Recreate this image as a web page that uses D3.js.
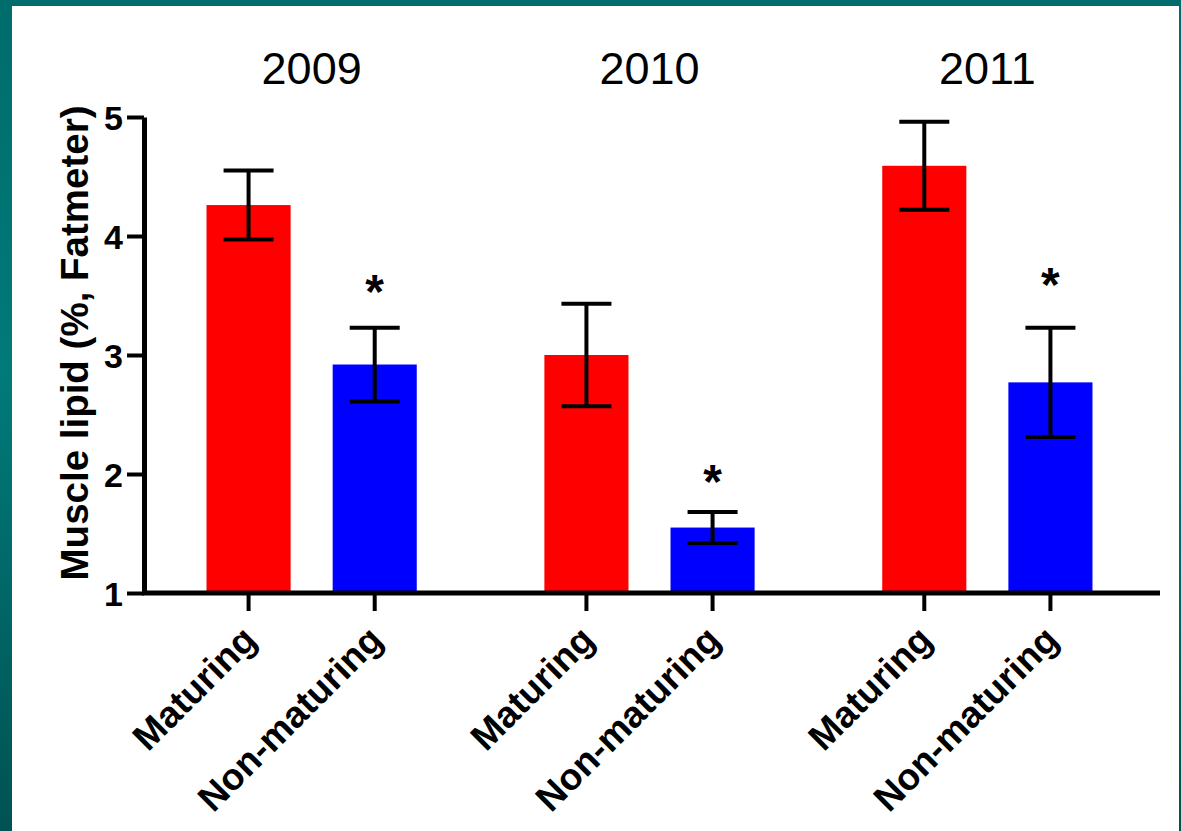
<!DOCTYPE html>
<meta charset="utf-8">
<head>
	<style>
		html, body {
			margin: 0;
			padding: 0;
			background-color: #006a6a;
		}
		svg text {
			font-family: "Liberation Sans", Arial, sans-serif;
			fill: black;
		}
		.xlabel {
			font-size: 37px;
			font-weight: bold;
		}
		.year {
			font-size: 45px;
		}
		.ytitle {
			font-size: 38.5px;
			font-weight: bold;
		}
	</style>
	<script src="https://d3js.org/d3.v7.min.js"></script>
</head>
<body>
	<script>

	// DATA
	var years = ['2009', '2010', '2011'],
		groups = ['Maturing', 'Non-maturing'],
		colors = ['#ff0000', '#0000ff'];

	// mean and error (SEM) per year, [Maturing, Non-maturing]
	var means = [[4.26, 2.92], [3.00, 1.55], [4.59, 2.77]],
		errs = [[0.29, 0.31], [0.43, 0.13], [0.37, 0.46]];

	// asterisk height (data units), only on non-maturing
	var stars = [3.61, 2.02, 3.67];
	var yTicks = [1, 2, 3, 4, 5];

	var rows = [];
	years.forEach(function(yr, i) {
		groups.forEach(function(gr, j) {
			rows.push({ year: yr, group: gr, mean: means[i][j], err: errs[i][j], color: colors[j] });
		});
	});

	// SETUP
	var W = 1181, H = 831;

	var svg = d3.select('body')
		.append('svg')
		.attr('width', W)
		.attr('height', H)
		.style('display', 'block');

	var defs = svg.append('defs');
	var grad = defs.append('linearGradient')
		.attr('id', 'frame')
		.attr('x1', 0).attr('y1', 0).attr('x2', 0).attr('y2', 1);
	grad.append('stop').attr('offset', '0%').attr('stop-color', '#006c6c');
	grad.append('stop').attr('offset', '45%').attr('stop-color', '#007a7a');
	grad.append('stop').attr('offset', '100%').attr('stop-color', '#005252');

	svg.append('rect')
		.attr('width', W).attr('height', H)
		.attr('fill', 'url(#frame)');

	svg.append('rect')
		.attr('x', 12).attr('y', 6)
		.attr('width', 1167).attr('height', H - 6)
		.attr('fill', 'white');

	var y = d3.scaleLinear().domain([1, 5]).range([593, 117]);

	var x0 = d3.scaleBand()
		.domain(years)
		.range([185.5, 1113.5])
		.paddingInner(0.2533)
		.paddingOuter(0);

	var x1 = d3.scaleBand()
		.domain(groups)
		.range([0, x0.bandwidth()])
		.paddingInner(1 / 3)
		.paddingOuter(1 / 6);

	function cx(d) { return x0(d.year) + x1(d.group) + x1.bandwidth() / 2; }

	var g = svg.append('g');

	// bars
	g.selectAll('.bar')
		.data(rows)
		.enter().append('rect')
		.attr('class', 'bar')
		.attr('x', function(d) { return x0(d.year) + x1(d.group); })
		.attr('width', x1.bandwidth())
		.attr('y', function(d) { return y(d.mean); })
		.attr('height', function(d) { return y(1) - y(d.mean); })
		.attr('fill', function(d) { return d.color; });

	// error bars
	var eb = g.selectAll('.err')
		.data(rows)
		.enter().append('g')
		.attr('class', 'err')
		.attr('stroke', 'black')
		.attr('stroke-width', 4);

	eb.append('line')
		.attr('x1', cx).attr('x2', cx)
		.attr('y1', function(d) { return y(d.mean + d.err); })
		.attr('y2', function(d) { return y(d.mean - d.err); });
	eb.append('line')
		.attr('x1', function(d) { return cx(d) - 25; })
		.attr('x2', function(d) { return cx(d) + 25; })
		.attr('y1', function(d) { return y(d.mean + d.err); })
		.attr('y2', function(d) { return y(d.mean + d.err); });
	eb.append('line')
		.attr('x1', function(d) { return cx(d) - 25; })
		.attr('x2', function(d) { return cx(d) + 25; })
		.attr('y1', function(d) { return y(d.mean - d.err); })
		.attr('y2', function(d) { return y(d.mean - d.err); });

	// asterisks
	g.selectAll('.star')
		.data(stars)
		.enter().append('text')
		.attr('class', 'star')
		.attr('x', function(d, i) { return x0(years[i]) + x1('Non-maturing') + x1.bandwidth() / 2; })
		.attr('y', function(d) { return y(d) + 26; })
		.attr('text-anchor', 'middle')
		.style('font-size', '48px')
		.style('font-weight', 'bold')
		.text('*');

	// y axis
	var yAxis = g.append('g')
		.attr('class', 'axis axis--y')
		.attr('transform', 'translate(144,0)')
		.attr('font-size', 34)
		.attr('font-weight', 'bold')
		.call(d3.axisLeft(y).tickValues(yTicks).tickSize(17).tickSizeOuter(0).tickPadding(4).tickFormat(d3.format('d')));

	yAxis.attr('font-size', 34);
	yAxis.select('.domain').attr('stroke-width', 5);
	yAxis.selectAll('.tick line').attr('stroke-width', 4);
	yAxis.selectAll('.tick text')
		.attr('dy', '0.36em')
		.style('font-size', '34px')
		.style('font-weight', 'bold');

	// x axis
	g.append('line')
		.attr('x1', 142).attr('x2', 1160)
		.attr('y1', y(1)).attr('y2', y(1))
		.attr('stroke', 'black')
		.attr('stroke-width', 5);

	g.selectAll('.xtick')
		.data(rows)
		.enter().append('line')
		.attr('class', 'xtick')
		.attr('x1', cx).attr('x2', cx)
		.attr('y1', y(1)).attr('y2', y(1) + 18)
		.attr('stroke', 'black')
		.attr('stroke-width', 4);

	g.selectAll('.xlabel')
		.data(rows)
		.enter().append('text')
		.attr('class', 'xlabel')
		.attr('text-anchor', 'end')
		.attr('transform', function(d) { return 'translate(' + (cx(d) + 10) + ',' + (y(1) + 49) + ') rotate(-45)'; })
		.text(function(d) { return d.group; });

	// year titles
	g.selectAll('.year')
		.data(years)
		.enter().append('text')
		.attr('class', 'year')
		.attr('x', function(d) { return x0(d) + x0.bandwidth() / 2; })
		.attr('y', 84)
		.attr('text-anchor', 'middle')
		.text(function(d) { return d; });

	// y title
	g.append('text')
		.attr('class', 'ytitle')
		.attr('transform', 'translate(88,343) rotate(-90)')
		.attr('text-anchor', 'middle')
		.text('Muscle lipid (%, Fatmeter)');

	</script>
</body>
